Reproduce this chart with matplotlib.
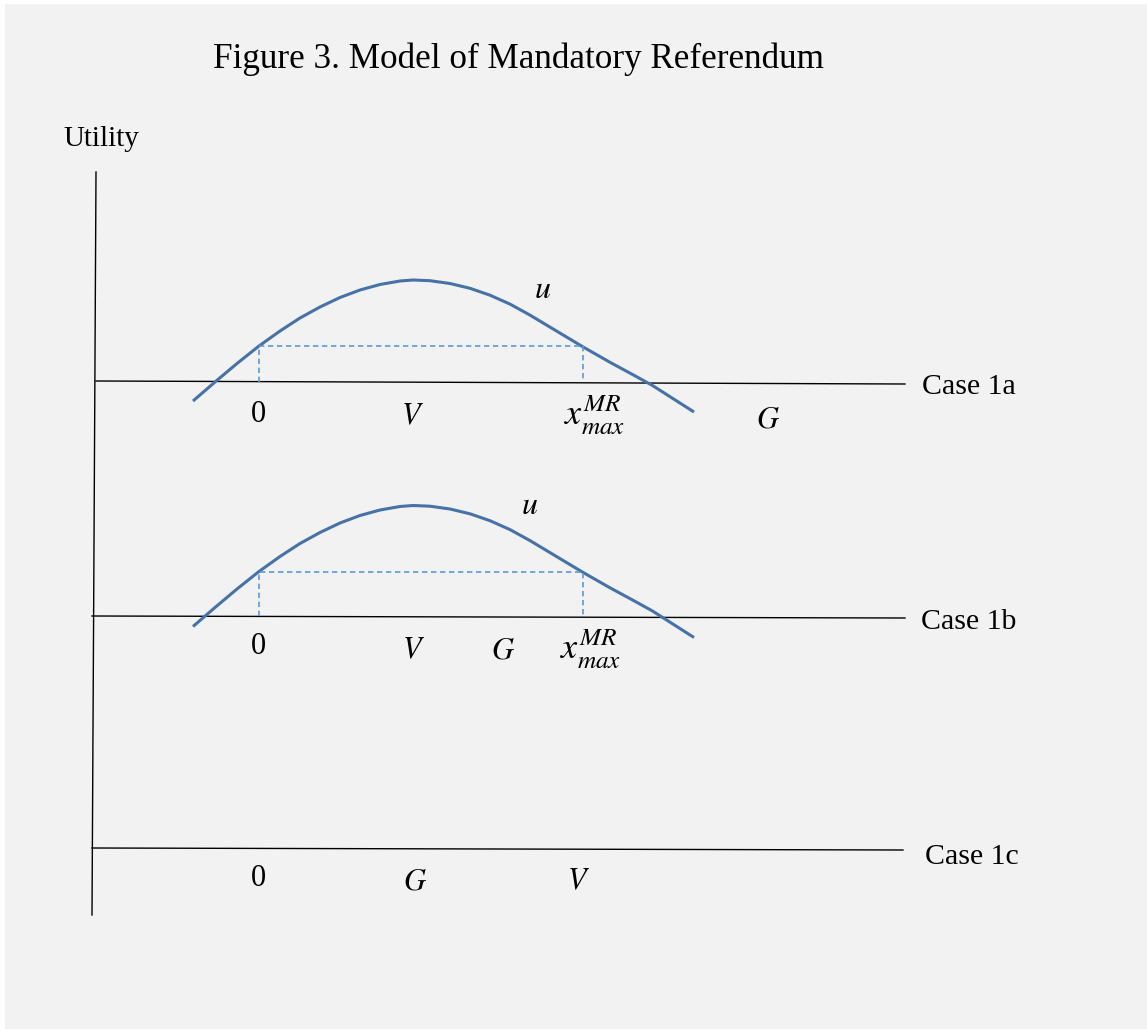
import matplotlib
matplotlib.use("Agg")
import matplotlib.pyplot as plt
from matplotlib.patches import Rectangle

plt.rcParams['font.family'] = ['Liberation Serif', 'DejaVu Serif']
plt.rcParams['mathtext.fontset'] = 'stix'

# everything is in picture units (x to the right, y downwards)
title = "Figure 3. Model of Mandatory Referendum"
cases = ["Case 1a", "Case 1b", "Case 1c"]

# baseline of each case: left end, right end
base_x = [[96, 905], [92, 905], [92, 903]]
base_y = [[381, 384], [616, 618], [848, 850]]

# vertical utility axis
axis_x = [96, 92]
axis_y = [172, 915]

# utility curve u, read for case 1a; case 1b is the same curve moved down
curve_x = [193, 204, 215, 237, 259, 280, 300, 320, 340, 360, 380, 400, 413,
           430, 450, 470, 490, 510, 530, 556, 583, 610, 632, 652, 673, 694]
curve_y = [401, 391.5, 382, 363.5, 346, 331, 318, 307, 297.5, 290, 284.5, 281, 280,
           280.7, 283.5, 288.3, 295.2, 304.1, 315.1, 330.7, 346.9, 362.3, 374.2,
           385.2, 398.6, 412]
curve_shift = [0, 225.5]
u_label_pos = [(543, 291), (530, 506)]

# dashed box between 0 and x_max (left x, right x, top y) per case
box_left = [258.7, 259]
box_right = [583, 582.7]
box_top = [346, 572]

# axis labels per case
xmax = r"$x_{max}^{MR}$"
point_labels = [
    ["0", "$V$", xmax, "$G$"],
    ["0", "$V$", "$G$", xmax],
    ["0", "$G$", "$V$"],
]
point_x = [[258, 412, 595, 768], [258, 413, 503, 591], [258, 415, 578]]
point_y = [[415, 417, 415, 420], [647, 651, 651, 649], [878, 882, 882]]
case_label_x = [922, 921, 925]
case_label_y = [387, 622, 857]

fig = plt.figure(figsize=(11.47, 10.31), dpi=100, facecolor='white')
ax = fig.add_axes([0, 0, 1, 1])
ax.set_xlim(0, 1147)
ax.set_ylim(1031, 0)
ax.axis('off')
ax.add_patch(Rectangle((5, 4), 1142, 1025, facecolor='#f2f2f2', edgecolor='none'))

ax.text(518, 59, title, fontsize=25.3, ha='center', va='center')
ax.text(101, 139, "Utility", fontsize=21, ha='center', va='center')

ax.plot(axis_x, axis_y, color='black', lw=1.0)

for i in range(len(cases)):
    ax.plot(base_x[i], base_y[i], color='black', lw=1.0)
    ax.text(case_label_x[i], case_label_y[i], cases[i], fontsize=21.5,
            ha='left', va='center')
    for lab, px, py in zip(point_labels[i], point_x[i], point_y[i]):
        size = 26 if lab == xmax else 22
        ax.text(px, py, lab, fontsize=size, ha='center', va='center')

for i, shift in enumerate(curve_shift):
    ax.plot(curve_x, [y + shift for y in curve_y], color='#4672a8', lw=2.2,
            solid_capstyle='butt', solid_joinstyle='round')
    ax.text(u_label_pos[i][0], u_label_pos[i][1], "$u$", fontsize=23,
            ha='center', va='center')
    # dashed box under the curve, bottom is the baseline
    bottom = base_y[i][0] + (base_y[i][1] - base_y[i][0]) * 0.2
    ax.plot([box_left[i], box_left[i], box_right[i], box_right[i]],
            [bottom, box_top[i], box_top[i], bottom],
            color='#5b9bd5', lw=1.2, linestyle=(0, (3.2, 2.2)))

fig.savefig("out.png", dpi=100, facecolor=fig.get_facecolor())
